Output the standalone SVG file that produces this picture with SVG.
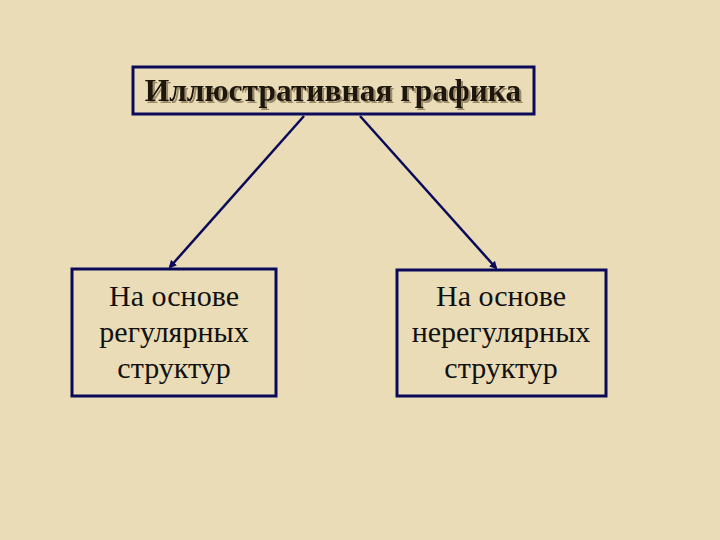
<svg xmlns="http://www.w3.org/2000/svg" width="720" height="540" viewBox="0 0 720 540">
<style>
.box{fill:none;stroke:#0a0a5a;stroke-width:3}
.t{font-family:"Liberation Serif",serif;font-size:30px;fill:#111;text-anchor:middle}
.h{font-family:"Liberation Serif",serif;font-size:31.5px;font-weight:bold;fill:#1a1208;text-anchor:middle;filter:url(#s)}
.c{stroke:#0a0a5a;stroke-width:2.5;marker-end:url(#a)}
</style>
<defs>
<marker id="a" markerWidth="8" markerHeight="8" refX="6" refY="4" orient="auto" markerUnits="userSpaceOnUse"><path d="M0,0L8,4L0,8Z" fill="#0a0a5a"/></marker>
<filter id="s" x="-5%" y="-20%" width="110%" height="140%"><feDropShadow dx="2" dy="2" stdDeviation="0.5" flood-color="#9a8a6a"/></filter>
</defs>
<rect width="720" height="540" fill="#eadcb6"/>
<g id="connectors">
<line class="c" x1="304" y1="116" x2="170" y2="267"/>
<line class="c" x1="360" y1="116" x2="496" y2="268"/>
</g>
<g id="top">
<rect class="box" x="133" y="67" width="401" height="47"/>
<text class="h" x="333" y="101">Иллюстративная графика</text>
</g>
<g id="left">
<rect class="box" x="72" y="269" width="204" height="127"/>
<text class="t" x="174" y="306">На основе</text>
<text class="t" x="174" y="342">регулярных</text>
<text class="t" x="174" y="378">структур</text>
</g>
<g id="right">
<rect class="box" x="397" y="270" width="209" height="126"/>
<text class="t" x="501" y="306">На основе</text>
<text class="t" x="501" y="342">нерегулярных</text>
<text class="t" x="501" y="378">структур</text>
</g>
</svg>
